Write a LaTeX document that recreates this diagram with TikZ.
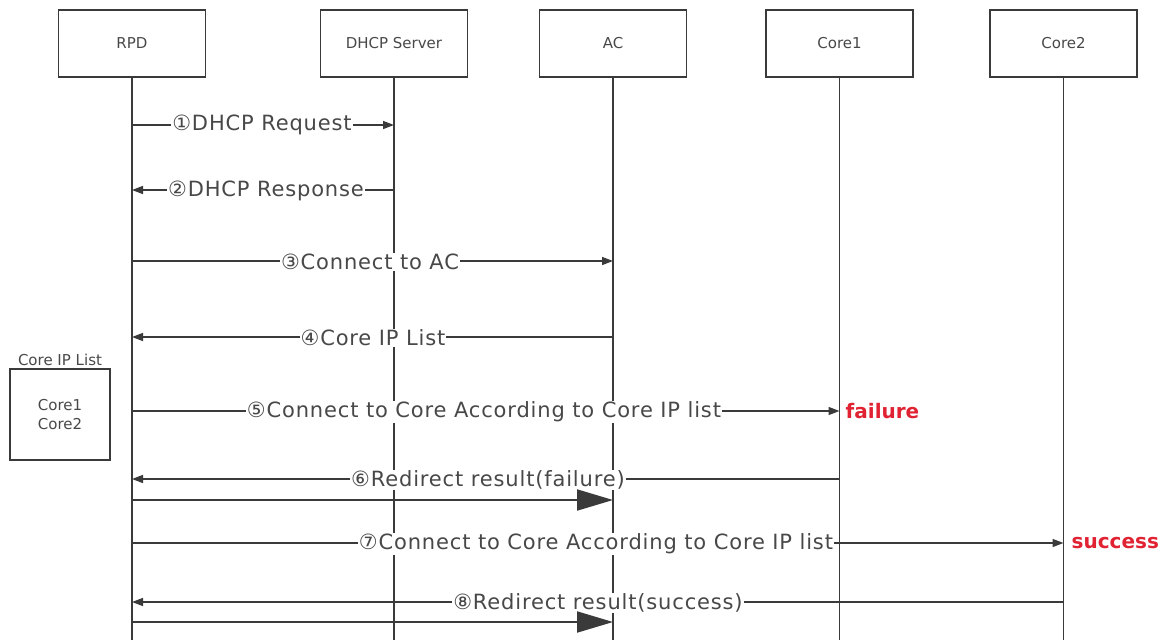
\documentclass[tikz,border=0pt]{standalone}
\usepackage{fontspec}
\setmainfont{DejaVu Sans}
\usetikzlibrary{arrows.meta}
\definecolor{ln}{HTML}{3A3A3A}
\definecolor{tx}{HTML}{484848}
\definecolor{myred}{HTML}{E02232}
\begin{document}
\begin{tikzpicture}[x=1pt,y=-1pt,
  actor/.style={draw=ln, line width=1.8pt, minimum width=147pt, minimum height=67pt, inner sep=0pt, font=\fontsize{15}{18}\selectfont, text=tx},
  life/.style={draw=ln, line width=1.5pt},
  msg/.style={draw=ln, line width=1.5pt, -{Triangle[length=11pt,width=8pt]}},
  big/.style={draw=ln, line width=2pt, -{Triangle[length=36pt,width=21pt]}},
  lbl/.style={fill=white, inner sep=1pt, text=tx, font=\fontsize{21}{24}\selectfont\addfontfeatures{LetterSpace=4}},
  res/.style={text=myred, font=\bfseries\fontsize{20}{22}\selectfont, anchor=west, inner sep=0pt}
]
\useasboundingbox (0,0) rectangle (1164,640);
% actors
\node[actor] (rpd) at (132,43.5) {RPD};
\node[actor] (dhcp) at (394,43.5) {DHCP Server};
\node[actor] (ac) at (613,43.5) {AC};
\node[actor] (c1) at (839.5,43.5) {Core1};
\node[actor] (c2) at (1063.5,43.5) {Core2};
% lifeline ends
\foreach \n in {rpd,dhcp,ac,c1,c2} {
  \coordinate (\n-end) at (\n.south |- 0,640);
  \draw[life] (\n.south) -- (\n-end);
}
% message points
\foreach \n/\y in {1/125,2/190,3/261,4/337,5/411,6/479,7/543,8/602,6b/500,8b/622} {
  \coordinate (r\n) at (rpd.south |- 0,\y);
}
\coordinate (d1) at (dhcp.south |- 0,125);
\coordinate (d2) at (dhcp.south |- 0,190);
\coordinate (a3) at (ac.south |- 0,261);
\coordinate (a4) at (ac.south |- 0,337);
\coordinate (k5) at (c1.south |- 0,411);
\coordinate (k6) at (c1.south |- 0,479);
\coordinate (a6) at (ac.south |- 0,500);
\coordinate (m7) at (c2.south |- 0,543);
\coordinate (m8) at (c2.south |- 0,602);
\coordinate (a8) at (ac.south |- 0,622);
% messages
\draw[msg] (r1) -- (d1);
\node[lbl] (l1) at (262,125) {①DHCP Request};
\draw[msg] (d2) -- (r2);
\node[lbl] (l2) at (266,191) {②DHCP Response};
\draw[msg] (r3) -- (a3);
\node[lbl] (l3) at (370,262) {③Connect to AC};
\draw[msg] (a4) -- (r4);
\node[lbl] (l4) at (373,338) {④Core IP List};
\draw[msg] (r5) -- (k5);
\node[lbl] (l5) at (484,412) {⑤Connect to Core According to Core IP list};
\node[res] (f5) at ([xshift=6pt]k5) {failure};
\draw[msg] (k6) -- (r6);
\node[lbl] (l6) at (488,480) {⑥Redirect result(failure)};
\draw[big] (r6b) -- (a6);
\draw[msg] (r7) -- (m7);
\node[lbl] (l7) at (596,544) {⑦Connect to Core According to Core IP list};
\node[res] (s7) at ([xshift=8pt]m7) {success};
\draw[msg] (m8) -- (r8);
\node[lbl] (l8) at (598,603) {⑧Redirect result(success)};
\draw[big] (r8b) -- (a8);
% core ip list box
\node[draw=ln, line width=1.8pt, minimum width=100pt, minimum height=91pt, inner sep=0pt, align=center, text=tx, font=\fontsize{15}{19}\selectfont] (list) at (60,414.5) {Core1\\Core2};
\node[text=tx, font=\fontsize{15}{17}\selectfont, anchor=south, inner sep=2pt] (listt) at (list.north) {Core IP List};
\end{tikzpicture}
\end{document}
